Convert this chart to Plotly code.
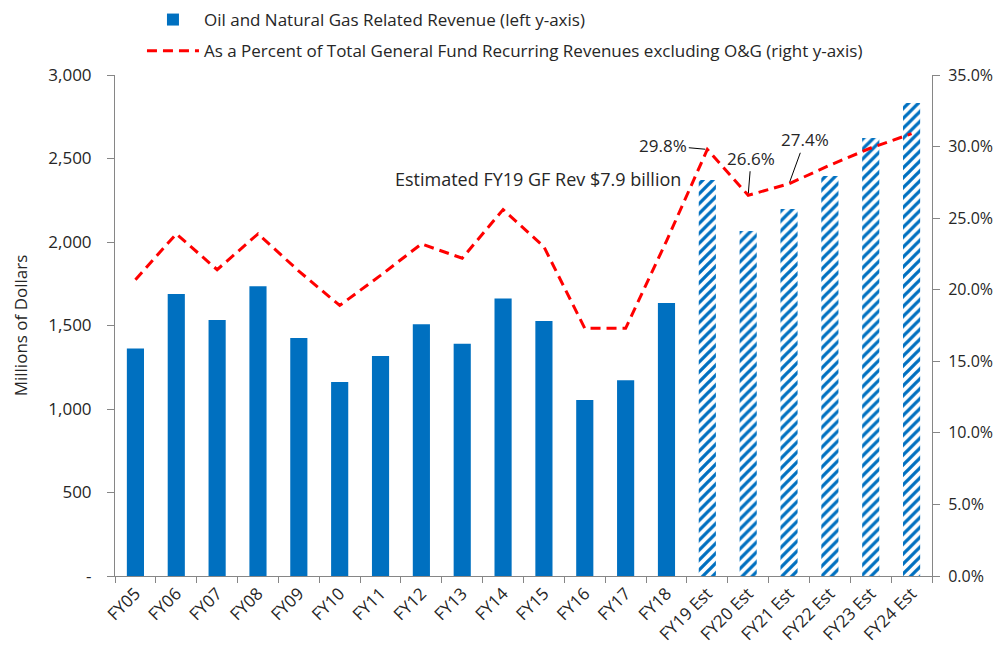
import plotly.graph_objects as go

categories = ["FY05", "FY06", "FY07", "FY08", "FY09", "FY10", "FY11", "FY12", "FY13", "FY14",
              "FY15", "FY16", "FY17", "FY18", "FY19 Est", "FY20 Est", "FY21 Est", "FY22 Est",
              "FY23 Est", "FY24 Est"]
revenue = [1362, 1688, 1533, 1735, 1425, 1162, 1317, 1507, 1390, 1662,
           1527, 1054, 1172, 1635, 2372, 2066, 2198, 2395, 2623, 2832]
percent = [20.7, 23.9, 21.4, 23.9, 21.3, 18.9, 21.0, 23.2, 22.2, 25.6,
           23.0, 17.3, 17.3, 23.4, 29.8, 26.6, 27.4, 28.7, 29.9, 30.9]
is_estimate = [c.endswith("Est") for c in categories]

left_tickvals = [0, 500, 1000, 1500, 2000, 2500, 3000]
left_ticktext = ["-", "500", "1,000", "1,500", "2,000", "2,500", "3,000"]
right_tickvals = [0, 5, 10, 15, 20, 25, 30, 35]
right_ticktext = ["0.0%", "5.0%", "10.0%", "15.0%", "20.0%", "25.0%", "30.0%", "35.0%"]

actual_x = [c for c, e in zip(categories, is_estimate) if not e]
actual_y = [v for v, e in zip(revenue, is_estimate) if not e]
est_x = [c for c, e in zip(categories, is_estimate) if e]
est_y = [v for v, e in zip(revenue, is_estimate) if e]

BLUE = "#0070C0"
RED = "#FF0000"
AXIS = "#868686"
TEXT = "#262626"
FONT = "'Open Sans', 'Noto Sans', Arial, sans-serif"

fig = go.Figure()
fig.add_trace(go.Bar(
    x=actual_x, y=actual_y,
    name="Oil and Natural Gas Related Revenue (left y-axis)",
    legendgroup="a",
    marker=dict(color=BLUE, line=dict(width=0)),
    yaxis="y",
))
fig.add_trace(go.Bar(
    x=est_x, y=est_y,
    name="Oil and Natural Gas Related Revenue (estimate)",
    legendgroup="a", showlegend=False,
    marker=dict(
        color="white", line=dict(width=0),
        pattern=dict(shape="/", fgcolor=BLUE, bgcolor="white", fillmode="replace",
                     size=7, solidity=0.47),
    ),
    yaxis="y",
))
fig.add_trace(go.Scatter(
    x=categories, y=percent, mode="lines",
    name="As a Percent of Total General Fund Recurring Revenues excluding O&G (right y-axis)",
    legendgroup="b",
    line=dict(color=RED, width=3, dash="10px,6px"),
    yaxis="y2",
))

annotations = [
    dict(x="FY19 Est", y=2380, xref="x", yref="y", text="Estimated FY19 GF Rev $7.9 billion",
         showarrow=False, xanchor="right", yanchor="middle", xshift=-24,
         font=dict(size=18, color=TEXT, family=FONT)),
    dict(x="FY19 Est", y=percent[14], xref="x", yref="y2", text="29.8%",
         showarrow=True, arrowhead=0, arrowwidth=1, arrowcolor="#000", ax=-44, ay=-4,
         standoff=2, font=dict(size=17, color=TEXT, family=FONT)),
    dict(x="FY20 Est", y=percent[15], xref="x", yref="y2", text="26.6%",
         showarrow=True, arrowhead=0, arrowwidth=1, arrowcolor="#000", ax=3, ay=-37,
         standoff=2, font=dict(size=17, color=TEXT, family=FONT)),
    dict(x="FY21 Est", y=percent[16], xref="x", yref="y2", text="27.4%",
         showarrow=True, arrowhead=0, arrowwidth=1, arrowcolor="#000", ax=16, ay=-44,
         standoff=2, font=dict(size=17, color=TEXT, family=FONT)),
]

# The page body has an 8px margin, so the figure is 8px smaller than the window.
fig.update_layout(
    width=995, height=641,
    margin=dict(l=107, r=71, t=67, b=73, autoexpand=False),
    paper_bgcolor="white", plot_bgcolor="white",
    font=dict(family=FONT, size=16, color=TEXT),
    barmode="overlay",
    bargap=0.58,
    showlegend=True,
    legend=dict(x=0.033, y=1.1457, xanchor="left", yanchor="top", orientation="v",
                tracegroupgap=6, font=dict(size=17, color=TEXT, family=FONT),
                bgcolor="rgba(0,0,0,0)", itemwidth=52),
    xaxis=dict(
        type="category", categoryorder="array", categoryarray=categories,
        tickangle=-45, tickson="boundaries", automargin=False,
        showline=True, linecolor=AXIS, linewidth=1, ticks="outside", tickcolor=AXIS,
        ticklen=6, showgrid=False, tickfont=dict(size=17, color=TEXT, family=FONT),
    ),
    yaxis=dict(
        range=[0, 3000], tickvals=left_tickvals, ticktext=left_ticktext, automargin=False,
        showline=True, linecolor=AXIS, linewidth=1, ticks="outside", tickcolor=AXIS,
        ticklen=7, showgrid=False, zeroline=False, ticklabelstandoff=12,
        title=dict(text="Millions of Dollars", font=dict(size=17, color=TEXT, family=FONT), standoff=16),
        tickfont=dict(size=17, color=TEXT, family=FONT),
    ),
    yaxis2=dict(
        range=[0, 35], tickvals=right_tickvals, ticktext=right_ticktext,
        overlaying="y", side="right", automargin=False,
        showline=True, linecolor=AXIS, linewidth=1, ticks="outside", tickcolor=AXIS,
        ticklen=7, showgrid=False, zeroline=False, ticklabelstandoff=5,
        tickfont=dict(size=16, color=TEXT, family=FONT),
    ),
    annotations=annotations,
)

fig.write_html("out.html")
